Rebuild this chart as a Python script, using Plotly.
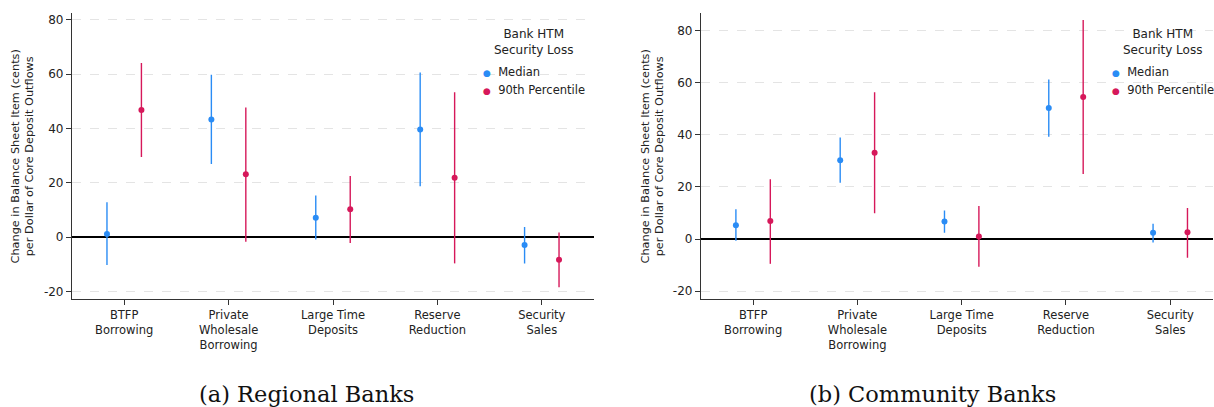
import plotly.graph_objects as go

categories = ["BTFP<br>Borrowing", "Private<br>Wholesale<br>Borrowing", "Large Time<br>Deposits",
              "Reserve<br>Reduction", "Security<br>Sales"]

# Regional banks
reg_med = [1.1, 43.3, 7.1, 39.6, -2.9]
reg_med_hi = [12.8, 59.8, 15.3, 60.6, 3.7]
reg_med_lo = [-10.3, 26.9, -0.9, 18.7, -9.7]
reg_p90 = [46.8, 23.1, 10.2, 21.8, -8.4]
reg_p90_hi = [64.1, 47.7, 22.5, 53.3, 1.7]
reg_p90_lo = [29.5, -1.7, -2.2, -9.7, -18.5]

# Community banks
com_med = [5.3, 30.3, 6.7, 50.3, 2.4]
com_med_hi = [11.4, 39.0, 11.0, 61.3, 5.9]
com_med_lo = [-0.6, 21.6, 2.4, 39.3, -1.3]
com_p90 = [6.9, 33.1, 1.0, 54.5, 2.6]
com_p90_hi = [23.0, 56.4, 12.7, 84.1, 11.9]
com_p90_lo = [-9.5, 9.9, -10.6, 25.0, -7.2]

y_ticks = [-20, 0, 20, 40, 60, 80]
y_ticktext = ["-20", "0", "20", "40", "60", "80"]

series_names = ["Median", "90th Percentile"]
legend_title = "Bank HTM<br>Security Loss"
y_title = "Change in Balance Sheet Item (cents)<br>per Dollar of Core Deposit Outflows"
captions = ["(a) Regional Banks", "(b) Community Banks"]

BLUE = "#2a8cf5"
RED = "#d6185a"
OFF = 0.165
FONT = "DejaVu Sans"
W, H = 1214, 407

fig = go.Figure()


def add_series(xaxis, yaxis, vals, hi, lo, color, name, offset):
    xs = [i + offset for i in range(len(vals))]
    fig.add_trace(go.Scatter(
        x=xs, y=vals, mode="markers", name=name,
        xaxis=xaxis, yaxis=yaxis, showlegend=False,
        marker=dict(color=color, size=6),
        error_y=dict(type="data", symmetric=False,
                     array=[h - v for h, v in zip(hi, vals)],
                     arrayminus=[v - l for v, l in zip(vals, lo)],
                     color=color, thickness=1.4, width=0),
    ))


add_series("x", "y", reg_med, reg_med_hi, reg_med_lo, BLUE, series_names[0], -OFF)
add_series("x", "y", reg_p90, reg_p90_hi, reg_p90_lo, RED, series_names[1], OFF)
add_series("x2", "y2", com_med, com_med_hi, com_med_lo, BLUE, series_names[0], -OFF)
add_series("x2", "y2", com_p90, com_p90_hi, com_p90_lo, RED, series_names[1], OFF)

ydom = [0.2654, 0.9688]
xcommon = dict(
    tickmode="array", tickvals=list(range(5)), ticktext=categories,
    showline=True, linecolor="#333", linewidth=1.2, ticks="outside", ticklen=5,
    tickcolor="#333", showgrid=False, zeroline=False, automargin=False,
    tickfont=dict(family=FONT, size=11.5, color="#222"),
)
ycommon = dict(
    tickmode="array", tickvals=y_ticks, ticktext=y_ticktext,
    showline=True, linecolor="#333", linewidth=1.2, ticks="outside", ticklen=5,
    tickcolor="#333", showgrid=True, gridcolor="#e4e4e4", griddash="dash", gridwidth=1,
    zeroline=True, zerolinecolor="black", zerolinewidth=1.6, automargin=False,
    tickfont=dict(family=FONT, size=12, color="#222"),
)

annotations = []
# y-axis titles
for xc in (22.5, 652.5):
    annotations.append(dict(text=y_title, x=xc / W, y=(H - 157) / H, xref="paper", yref="paper",
                            xanchor="center", yanchor="middle", showarrow=False, textangle=-90,
                            font=dict(family=FONT, size=11.3, color="#222")))
# legend blocks
for tx, bx in ((533, 485), (1162, 1114)):
    annotations.append(dict(text=legend_title, x=tx / W, y=(H - 41.5) / H, xref="paper", yref="paper",
                            xanchor="center", yanchor="middle", showarrow=False, align="center",
                            font=dict(family=FONT, size=12, color="#222")))
    for name, color, yc in ((series_names[0], BLUE, 72.5), (series_names[1], RED, 90.5)):
        annotations.append(dict(
            text=f"<span style='color:{color};font-size:9px'>●</span>  {name}",
            x=(bx - 4) / W, y=(H - yc) / H, xref="paper", yref="paper",
            xanchor="left", yanchor="middle", showarrow=False, align="left",
            font=dict(family=FONT, size=11.5, color="#222")))
# captions
for text, xc in zip(captions, (306, 932)):
    annotations.append(dict(text=text, x=xc / W, y=(H - 394) / H, xref="paper", yref="paper",
                            xanchor="center", yanchor="middle", showarrow=False,
                            font=dict(family="DejaVu Serif", size=22.5, color="#111")))

fig.update_layout(
    width=W, height=H,
    margin=dict(l=0, r=0, t=0, b=0, autoexpand=False),
    plot_bgcolor="white", paper_bgcolor="white",
    showlegend=False,
    xaxis=dict(domain=[0.0593, 0.4893], range=[-0.5, 4.5], anchor="y", **xcommon),
    yaxis=dict(domain=ydom, range=[-22.8, 82.6], anchor="x", **ycommon),
    xaxis2=dict(domain=[0.5774, 0.9992], range=[-0.5, 4.41], anchor="y2", **xcommon),
    yaxis2=dict(domain=ydom, range=[-23.0, 86.9], anchor="x2", **ycommon),
    annotations=annotations,
)

fig.write_html("out.html")
